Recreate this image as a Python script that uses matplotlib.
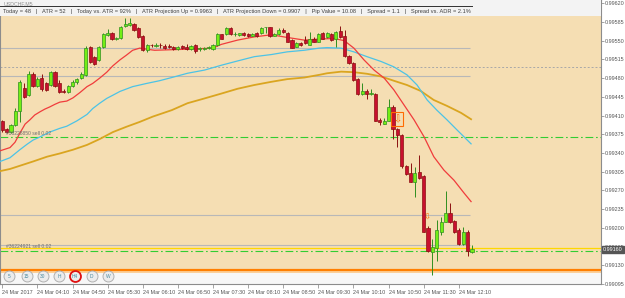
import numpy as np
import matplotlib
matplotlib.use('Agg')
import matplotlib.pyplot as plt
from matplotlib.patches import Rectangle

# USDCHF M5, 24 Mar 2017 03:30 -> 12:25
opens = [0.99400, 0.99385, 0.99379, 0.99392, 0.99418, 0.99461, 0.99448, 0.99488, 0.99465, 0.99480,
         0.99471, 0.99467, 0.99491, 0.99471, 0.99456, 0.99454, 0.99465, 0.99473, 0.99480, 0.99486,
         0.99538, 0.99519, 0.99514, 0.99538, 0.99561, 0.99564, 0.99553, 0.99555, 0.99577, 0.99579,
         0.99581, 0.99574, 0.99559, 0.99532, 0.99542, 0.99540, 0.99542, 0.99540, 0.99539, 0.99539,
         0.99534, 0.99540, 0.99539, 0.99534, 0.99542, 0.99534, 0.99534, 0.99537, 0.99534, 0.99541,
         0.99562, 0.99562, 0.99574, 0.99562, 0.99561, 0.99564, 0.99562, 0.99559, 0.99564, 0.99564,
         0.99575, 0.99575, 0.99559, 0.99562, 0.99570, 0.99564, 0.99551, 0.99539, 0.99546, 0.99551,
         0.99542, 0.99554, 0.99548, 0.99564, 0.99556, 0.99562, 0.99553, 0.99568, 0.99559, 0.99521,
         0.99508, 0.99478, 0.99450, 0.99456, 0.99450, 0.99450, 0.99402, 0.99395, 0.99400, 0.99425,
         0.99384, 0.99374, 0.99316, 0.99302, 0.99286, 0.99305, 0.99297, 0.99199, 0.99154, 0.99162,
         0.99193, 0.99211, 0.99228, 0.99213, 0.99195, 0.99170, 0.99192, 0.99155]
highs = [0.99402, 0.99387, 0.99394, 0.99424, 0.99476, 0.99471, 0.99493, 0.99491, 0.99482, 0.99488,
         0.99473, 0.99493, 0.99493, 0.99476, 0.99460, 0.99467, 0.99476, 0.99480, 0.99491, 0.99540,
         0.99540, 0.99521, 0.99540, 0.99564, 0.99572, 0.99566, 0.99557, 0.99577, 0.99592, 0.99592,
         0.99583, 0.99575, 0.99561, 0.99544, 0.99544, 0.99546, 0.99546, 0.99544, 0.99544, 0.99540,
         0.99540, 0.99542, 0.99544, 0.99542, 0.99544, 0.99538, 0.99538, 0.99540, 0.99544, 0.99564,
         0.99562, 0.99575, 0.99575, 0.99566, 0.99564, 0.99566, 0.99564, 0.99564, 0.99566, 0.99575,
         0.99576, 0.99575, 0.99564, 0.99574, 0.99574, 0.99566, 0.99553, 0.99547, 0.99547, 0.99559,
         0.99566, 0.99557, 0.99564, 0.99566, 0.99566, 0.99564, 0.99568, 0.99577, 0.99570, 0.99523,
         0.99510, 0.99480, 0.99471, 0.99460, 0.99460, 0.99452, 0.99405, 0.99405, 0.99441, 0.99430,
         0.99387, 0.99375, 0.99317, 0.99321, 0.99314, 0.99336, 0.99299, 0.99203, 0.99179, 0.99215,
         0.99221, 0.99269, 0.99246, 0.99215, 0.99200, 0.99202, 0.99196, 0.99168]
lows = [0.99379, 0.99377, 0.99377, 0.99390, 0.99398, 0.99443, 0.99446, 0.99463, 0.99463, 0.99456,
        0.99456, 0.99465, 0.99463, 0.99452, 0.99452, 0.99452, 0.99463, 0.99469, 0.99478, 0.99484,
        0.99508, 0.99504, 0.99512, 0.99536, 0.99559, 0.99551, 0.99551, 0.99553, 0.99575, 0.99577,
        0.99568, 0.99555, 0.99531, 0.99529, 0.99538, 0.99538, 0.99536, 0.99534, 0.99536, 0.99532,
        0.99532, 0.99534, 0.99532, 0.99532, 0.99527, 0.99531, 0.99532, 0.99534, 0.99532, 0.99540,
        0.99553, 0.99561, 0.99561, 0.99559, 0.99559, 0.99559, 0.99557, 0.99559, 0.99557, 0.99562,
        0.99564, 0.99557, 0.99559, 0.99561, 0.99564, 0.99547, 0.99536, 0.99538, 0.99540, 0.99544,
        0.99542, 0.99547, 0.99547, 0.99553, 0.99555, 0.99549, 0.99539, 0.99555, 0.99519, 0.99506,
        0.99474, 0.99448, 0.99448, 0.99441, 0.99448, 0.99400, 0.99392, 0.99394, 0.99400, 0.99366,
        0.99351, 0.99312, 0.99299, 0.99286, 0.99257, 0.99291, 0.99192, 0.99155, 0.99112, 0.99137,
        0.99187, 0.99211, 0.99209, 0.99190, 0.99168, 0.99168, 0.99147, 0.99153]
closes = [0.99383, 0.99379, 0.99392, 0.99418, 0.99473, 0.99445, 0.99488, 0.99465, 0.99478, 0.99460,
          0.99458, 0.99491, 0.99465, 0.99454, 0.99454, 0.99465, 0.99473, 0.99478, 0.99488, 0.99536,
          0.99510, 0.99506, 0.99538, 0.99562, 0.99564, 0.99553, 0.99555, 0.99575, 0.99581, 0.99583,
          0.99570, 0.99557, 0.99532, 0.99542, 0.99541, 0.99541, 0.99541, 0.99536, 0.99538, 0.99534,
          0.99539, 0.99536, 0.99534, 0.99540, 0.99531, 0.99536, 0.99537, 0.99537, 0.99542, 0.99562,
          0.99554, 0.99574, 0.99562, 0.99562, 0.99564, 0.99561, 0.99559, 0.99562, 0.99558, 0.99573,
          0.99575, 0.99558, 0.99562, 0.99570, 0.99566, 0.99548, 0.99537, 0.99545, 0.99542, 0.99545,
          0.99553, 0.99548, 0.99562, 0.99554, 0.99564, 0.99551, 0.99566, 0.99556, 0.99521, 0.99508,
          0.99476, 0.99450, 0.99456, 0.99450, 0.99453, 0.99400, 0.99398, 0.99400, 0.99425, 0.99384,
          0.99374, 0.99316, 0.99301, 0.99286, 0.99303, 0.99293, 0.99193, 0.99157, 0.99165, 0.99196,
          0.99210, 0.99228, 0.99210, 0.99193, 0.99170, 0.99192, 0.99157, 0.99160]

red_idx = [-0.5, 1.75, 2.9, 4.0, 5.2, 6.3, 7.4, 8.6, 9.7, 10.8, 12.0, 13.1, 14.7, 16.1, 17.7,
           19.3, 20.6, 22.2, 23.8, 25.2, 26.8, 28.3, 29.7, 31.3, 32.9, 34.7, 42.2, 47.9, 49.9, 53.6,
           57.4, 61.3, 64.9, 68.8, 72.2, 75.6, 77.9, 80.1, 82.4, 84.7, 87.0, 89.2, 91.5, 93.8, 96.1,
           98.3, 100.6, 102.9, 105.2, 106.8]
red_val = [0.99344, 0.99350, 0.99360, 0.99377, 0.99394, 0.99402, 0.99411, 0.99417, 0.99422, 0.99426,
           0.99431, 0.99435, 0.99437, 0.99443, 0.99453, 0.99464, 0.99470, 0.99480, 0.99491, 0.99503,
           0.99514, 0.99523, 0.99532, 0.99536, 0.99534, 0.99532, 0.99534, 0.99536, 0.99543, 0.99551,
           0.99557, 0.99561, 0.99556, 0.99551, 0.99553, 0.99554, 0.99550, 0.99536, 0.99514, 0.99495,
           0.99480, 0.99458, 0.99430, 0.99402, 0.99370, 0.99333, 0.99308, 0.99289, 0.99265, 0.99249]
cyan_idx = [-0.5, 1.75, 4.0, 5.6, 7.0, 8.6, 10.8, 13.1, 14.7, 17.0, 19.3, 20.6, 22.2, 23.8, 25.2,
            26.8, 29.7, 32.9, 35.8, 38.6, 42.2, 46.1, 49.9, 53.6, 57.4, 61.3, 64.9, 68.8, 72.2, 74.0,
            77.2, 80.1, 83.1, 86.3, 89.2, 92.2, 94.5, 96.8, 99.0, 101.3, 103.6, 106.8]
cyan_val = [0.99324, 0.99331, 0.99346, 0.99356, 0.99364, 0.99370, 0.99379, 0.99386, 0.99390, 0.99400,
            0.99412, 0.99423, 0.99433, 0.99442, 0.99448, 0.99455, 0.99464, 0.99470, 0.99475, 0.99481,
            0.99489, 0.99495, 0.99504, 0.99512, 0.99520, 0.99524, 0.99529, 0.99532, 0.99536, 0.99537,
            0.99536, 0.99529, 0.99520, 0.99511, 0.99501, 0.99486, 0.99467, 0.99439, 0.99420, 0.99402,
            0.99383, 0.99357]
orange_idx = [-0.5, 1.75, 4.0, 7.0, 10.2, 13.1, 16.1, 19.3, 22.2, 25.2, 28.3, 31.3, 34.3, 38.6, 42.2,
              46.1, 49.9, 53.6, 57.4, 61.3, 64.9, 68.8, 72.2, 74.0, 77.2, 80.1, 83.1, 86.3, 89.2, 92.2,
              95.3, 98.3, 101.3, 104.5, 106.8]
orange_val = [0.99306, 0.99310, 0.99316, 0.99324, 0.99333, 0.99339, 0.99346, 0.99355, 0.99366, 0.99379,
              0.99389, 0.99398, 0.99408, 0.99420, 0.99433, 0.99442, 0.99451, 0.99460, 0.99467, 0.99473,
              0.99478, 0.99481, 0.99486, 0.99489, 0.99492, 0.99491, 0.99488, 0.99483, 0.99475, 0.99467,
              0.99456, 0.99439, 0.99428, 0.99415, 0.99403]

grey_levels = [0.99536, 0.99484, 0.99224, 0.99168]
dash_level = 0.99501
green_levels = [0.99369, 0.99157]
order_labels = ['#36228850 sell 0.02', '#36224921 sell 0.02']
yellow_level = 0.99162
orange_level = 0.99121
arrow_bars = [90, 96.7]
arrow_prices = [0.99403, 0.99220]

tick_labels = ['24 Mar 2017', '24 Mar 04:10', '24 Mar 04:50', '24 Mar 05:30', '24 Mar 06:10',
               '24 Mar 06:50', '24 Mar 07:30', '24 Mar 08:10', '24 Mar 08:50', '24 Mar 09:30',
               '24 Mar 10:10', '24 Mar 10:50', '24 Mar 11:30', '24 Mar 12:10']
price_ticks = [0.99620 - 0.00035 * k for k in range(16)]
info = ('Today = 48   |   ATR = 52   |   Today vs. ATR = 92%   |   ATR Projection Up = 0.9963   |   '
        'ATR Projection Down = 0.9907   |   Pip Value = 10.08   |   Spread = 1.1   |   Spread vs. ADR = 2.1%')
buttons = ['5', '15', '30', 'H', 'H4', 'D', 'W']

plt.rcParams['font.family'] = ['Liberation Sans', 'DejaVu Sans']

fig = plt.figure(figsize=(6.25, 2.98), dpi=100)
fig.set_facecolor('white')
ax = fig.add_axes([0, 14 / 298, 601 / 625, 284 / 298])
ax.set_facecolor('#f5deb3')
ax.set_xlim(-0.524, 136.4)
ax.set_ylim(0.990949, 0.99626)

n = len(opens)
x = np.arange(n)
o = np.array(opens); c = np.array(closes); h = np.array(highs); l = np.array(lows)
up = c >= o
wick_col = np.where(up, '#2f8f1f', '#8b1010')
ax.vlines(x, l, h, colors=wick_col, lw=0.7, zorder=4)
body_lo = np.minimum(o, c)
body_h = np.maximum(np.abs(c - o), 0.000012)
ax.bar(x[up], body_h[up], bottom=body_lo[up], width=0.72, color='#74ee15',
       edgecolor='#2f8f1f', lw=0.5, zorder=5)
ax.bar(x[~up], body_h[~up], bottom=body_lo[~up], width=0.72, color='#c8102e',
       edgecolor='#8b1010', lw=0.5, zorder=5)

ax.plot(orange_idx, orange_val, color='#daa520', lw=1.3, zorder=3)
ax.plot(cyan_idx, cyan_val, color='#4cc3e6', lw=0.9, zorder=3)
ax.plot(red_idx, red_val, color='#f03c3c', lw=0.9, zorder=3)

for lv in grey_levels:
    ax.hlines(lv, -0.524, 106.6, colors='#b8b8b8', lw=0.8, zorder=2)
ax.axhline(dash_level, color='#a8a8a8', lw=0.7, ls=(0, (2, 2)), zorder=2)
for lv, txt in zip(green_levels, order_labels):
    ax.axhline(lv, color='#32cd32', lw=0.8, ls=(0, (7, 2.5, 1.5, 2.5)), zorder=2)
    ax.text(0.9, lv + 0.00003, txt, fontsize=3.6, color='#707070', va='bottom', zorder=6)
ax.axhline(yellow_level, color='#ffd700', lw=0.9, zorder=2)

# arrows
ax.text(arrow_bars[0], arrow_prices[0], '\u21e9', fontsize=7, color='#ff6a00', ha='center', va='center',
        family='DejaVu Sans', zorder=7,
        bbox=dict(boxstyle='square,pad=0.2', fc='none', ec='#ff6a00', lw=0.8))
ax.text(arrow_bars[1], arrow_prices[1], '\u21e9', fontsize=6, color='#ff6a00', ha='center', va='center',
        family='DejaVu Sans', zorder=7)

# top info panel and bottom button strip
ax.add_patch(Rectangle((0, 1 - 16 / 284), 1, 16 / 284, transform=ax.transAxes,
                       fc='#f3f3f3', ec='none', zorder=8))
ax.plot([0, 472 / 601], [1 - 5.5 / 284] * 2, transform=ax.transAxes, color='#303030', lw=0.7, zorder=9)
ax.text(4 / 601, 1 - 3.5 / 284, 'USDCHF,M5', transform=ax.transAxes, fontsize=3.8, color='#909090',
        va='center', zorder=8.5)
ax.text(3 / 601, 1 - 12 / 284, info, transform=ax.transAxes, fontsize=4.1, color='#404040',
        va='center', zorder=10)

ax.add_patch(Rectangle((0, 0), 1, 11 / 284, transform=ax.transAxes, fc='#f7f7f7', ec='none', zorder=1.5))
ax.add_patch(Rectangle((0, 11 / 284), 1, 2.5 / 284, transform=ax.transAxes, fc='#fcd09a', ec='none', zorder=1.5))
ax.axhline(orange_level, color='#ff7f00', lw=1.6, zorder=2)

bx = [9.3, 26.7, 42.7, 59.3, 75, 91.7, 108.3]
for px, lab in zip(bx, buttons):
    red = lab == 'H4'
    ax.scatter([px / 601], [8 / 284], s=62, transform=ax.transAxes, marker='o', fc='#ececec',
               ec='#e01010' if red else '#b0b0b0', lw=1.3 if red else 0.7, zorder=11, clip_on=False)
    ax.text(px / 601, 8 / 284, lab, transform=ax.transAxes, fontsize=3.5, color='#4a8aa0',
            ha='center', va='center', zorder=12)

# axes
ax.yaxis.tick_right()
ax.set_yticks(price_ticks)
ax.set_yticklabels(['%.5f' % v for v in price_ticks])
ax.tick_params(axis='y', length=2, width=0.5, color='#808080', labelsize=3.9, labelcolor='#555555', pad=0.5)
ax.set_xticks(np.arange(0, 8 * len(tick_labels), 8))
ax.set_xticklabels(tick_labels, ha='left')
ax.tick_params(axis='x', length=3, width=0.5, color='#808080', labelsize=3.9, labelcolor='#555555', pad=1.5)
for sp in ax.spines.values():
    sp.set_color('#8c8c8c')
    sp.set_linewidth(0.8)

ax.text(1.003, closes[-1], '%.5f' % closes[-1], transform=ax.get_yaxis_transform(), fontsize=3.9,
        color='white', va='center', ha='left', zorder=12, clip_on=False,
        bbox=dict(boxstyle='square,pad=0.2', fc='#555555', ec='#555555'))

fig.savefig('out.png', dpi=100)
